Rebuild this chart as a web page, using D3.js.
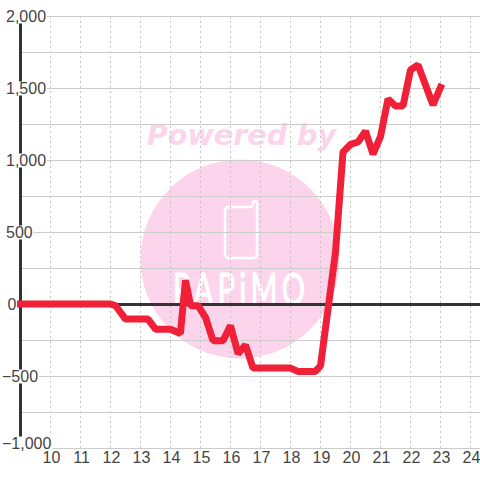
<!DOCTYPE html>
<html>
<head>
<meta charset="utf-8">
<script src="https://cdnjs.cloudflare.com/ajax/libs/d3/7.8.5/d3.min.js"></script>
<style>
  html, body { margin: 0; padding: 0; background: #fff; }
  svg { display: block; }
  text { font-family: "Liberation Sans", Arial, sans-serif; }
</style>
</head>
<body>
<script>
// tick values
var hourTicks = [10, 11, 12, 13, 14, 15, 16, 17, 18, 19, 20, 21, 22, 23, 24];
var majorTicks = [2000, 1500, 1000, 500, 0, -500, -1000];
var minorTicks = [1750, 1250, 750, 250, -250, -750];

// series
var hours = [9, 12, 12.17, 12.5, 13.25, 13.5, 14, 14.33, 14.5, 14.67, 14.92, 15.17, 15.42, 15.75, 16,
  16.25, 16.5, 16.75, 18, 18.25, 18.83, 19, 19.5, 19.75, 20, 20.25, 20.5, 20.75, 21, 21.25, 21.5,
  21.75, 22, 22.25, 22.75, 23];
var values = [0, 0, -12, -105, -105, -175, -175, -205, 165, -12, -12, -95, -255, -255, -150,
  -345, -285, -445, -445, -468, -468, -430, 360, 1055, 1108, 1125, 1200, 1040, 1162, 1424, 1375,
  1375, 1625, 1660, 1382, 1505];

var width = 480, height = 480;

var x = d3.scaleLinear().domain([9, 24]).range([20.5, 470.5]);
var y = d3.scaleLinear().domain([-1000, 2000]).range([448, 16]);

var svg = d3.select("body").append("svg")
  .attr("width", width)
  .attr("height", height);

// watermark, sits under the grid
var mark = svg.append("g");
mark.append("circle")
  .attr("cx", 240).attr("cy", 259).attr("r", 99.5)
  .attr("fill", "#fcd5ec");
mark.append("text")
  .attr("x", 241.5).attr("y", 145)
  .attr("text-anchor", "middle")
  .style("font-family", "'DejaVu Sans'")
  .style("font-weight", "bold")
  .style("font-style", "italic")
  .style("font-size", "28.6px")
  .attr("fill", "#fcd5ec")
  .text("Powered by");
mark.append("path")
  .attr("d", "M229 207 H250 Q252 207 252.5 205 Q253 201 255 201 Q257 201 257 204 V254 Q257 258 253 258 H229 Q225 258 225 254 V211 Q225 207 229 207 Z")
  .attr("fill", "none")
  .attr("stroke", "#fff")
  .attr("stroke-width", 2.5);
mark.append("text")
  .attr("transform", "translate(173,305) scale(1,1.5)")
  .attr("textLength", 132)
  .attr("lengthAdjust", "spacing")
  .style("font-family", "Lato")
  .style("font-weight", 400)
  .style("font-size", "29px")
  .attr("fill", "#fff")
  .attr("stroke", "#fff")
  .attr("stroke-width", 0.8)
  .text("PAPiMO");

// grid
svg.append("g").selectAll("line")
  .data(hourTicks)
  .enter().append("line")
  .attr("x1", function (d) { return x(d); })
  .attr("x2", function (d) { return x(d); })
  .attr("y1", y(2000))
  .attr("y2", y(-1000))
  .attr("stroke", "#c4c4c4")
  .attr("stroke-dasharray", "2,3");

svg.append("g").selectAll("line")
  .data(majorTicks.concat(minorTicks).filter(function (d) { return d !== 0; }))
  .enter().append("line")
  .attr("x1", 20)
  .attr("x2", width)
  .attr("y1", function (d) { return y(d) + 0.5; })
  .attr("y2", function (d) { return y(d) + 0.5; })
  .attr("stroke", "#cccccc")
  .attr("stroke-width", 1);

// y axis line
svg.append("line")
  .attr("x1", 20.5).attr("x2", 20.5)
  .attr("y1", y(2000)).attr("y2", y(-1000))
  .attr("stroke", "#333")
  .attr("stroke-width", 3);

// y labels have a white box that cuts the axis and the grid
var yLabels = svg.append("g").selectAll("g")
  .data(majorTicks)
  .enter().append("g");
yLabels.append("text")
  .attr("x", function (d) { return d < 0 ? 2 : (d === 0 ? 7.5 : 6); })
  .attr("y", function (d) { return d === -1000 ? y(d) + 0.5 : y(d) + 5.5; })
  .style("font-size", "16px")
  .attr("fill", "#444")
  .text(function (d) { return d3.format(",")(d); });
yLabels.each(function () {
  var g = d3.select(this);
  var box = g.select("text").node().getBBox();
  g.insert("rect", "text")
    .attr("x", box.x - 1)
    .attr("y", box.y + 2)
    .attr("width", box.width + 2)
    .attr("height", box.height - 3)
    .attr("fill", "#fff");
});

// x axis labels
var xAxis = svg.append("g")
  .attr("transform", "translate(0,452)")
  .call(d3.axisBottom(x).tickValues(hourTicks).tickSize(0).tickPadding(0));
xAxis.select(".domain").remove();
xAxis.selectAll("text")
  .attr("dx", 0.5)
  .style("font-family", "'Liberation Sans'")
  .style("font-size", "16px")
  .attr("fill", "#444");

// zero line
svg.append("line")
  .attr("x1", 20).attr("x2", width)
  .attr("y1", y(0) + 0.5).attr("y2", y(0) + 0.5)
  .attr("stroke", "#333")
  .attr("stroke-width", 3);

// series
var line = d3.line()
  .x(function (d, i) { return x(hours[i]); })
  .y(function (d) { return y(d); });

svg.append("path")
  .datum(values)
  .attr("d", line)
  .attr("fill", "none")
  .attr("stroke", "#ef2038")
  .attr("stroke-width", 7)
  .attr("stroke-linecap", "square")
  .attr("stroke-linejoin", "bevel");
</script>
</body>
</html>
